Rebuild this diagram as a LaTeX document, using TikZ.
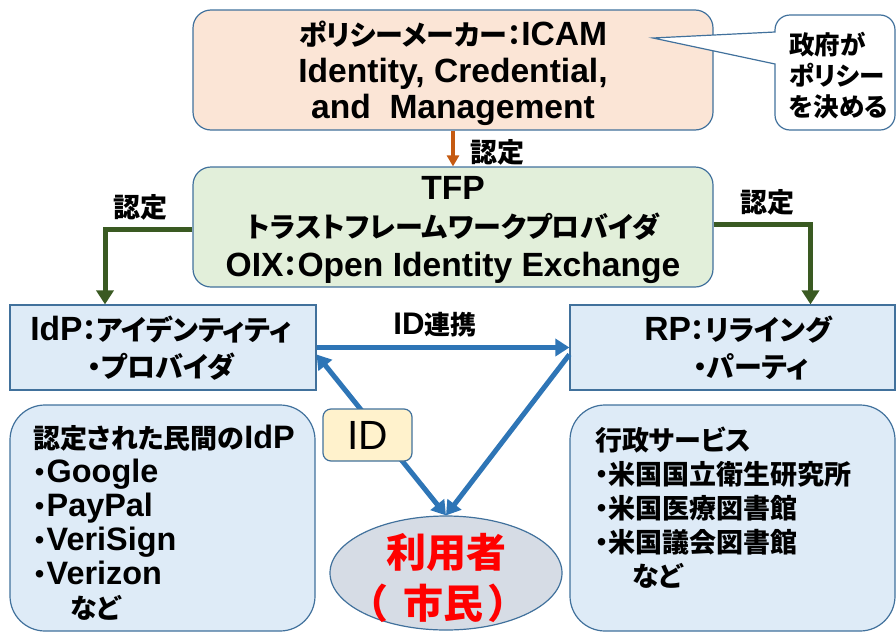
\documentclass[tikz,border=0pt]{standalone}
\usepackage{fontspec}
\setmainfont{Noto Sans CJK JP}[RawFeature=+palt]
\newfontfamily\latfont{Liberation Sans}[Scale=1.2]
\newcommand{\latn}[1]{{\latfont #1}}
\usetikzlibrary{arrows.meta,shapes.geometric}
\definecolor{peach}{HTML}{FBE5D6}
\definecolor{lgreen}{HTML}{E2EFDA}
\definecolor{lblue}{HTML}{DEEBF7}
\definecolor{lyellow}{HTML}{FFF2CC}
\definecolor{ugrey}{HTML}{D6DCE5}
\definecolor{bord}{HTML}{41719C}
\definecolor{arrblue}{HTML}{2E75B6}
\definecolor{arrgreen}{HTML}{3A5A22}
\definecolor{arrorange}{HTML}{C55A11}
\newcommand{\fsz}[2]{\fontsize{#1}{#2}\selectfont\bfseries}
\tikzset{
  box/.style={draw=bord, line width=1.2pt, inner sep=0pt},
  txt/.style={inner sep=0pt, align=center},
  ltxt/.style={inner sep=0pt, anchor=west},
  barrow/.style={draw=arrblue, line width=5pt, -{Triangle[length=14pt,width=17pt]}},
  garrow/.style={draw=arrgreen, line width=5pt, -{Triangle[length=14pt,width=17pt]}},
  oarrow/.style={draw=arrorange, line width=3.5pt, -{Triangle[length=11pt,width=12pt]}},
}
\begin{document}
\begin{tikzpicture}[x=1pt,y=1pt]
\useasboundingbox (0,0) rectangle (896,-632);
% boxes
\node[box, fill=peach, rounded corners=18, minimum width=520, minimum height=120] (pm) at (453,-70) {};
\node[box, fill=lgreen, rounded corners=18, minimum width=520, minimum height=120] (tfp) at (453,-227) {};
\node[box, fill=lblue, minimum width=306, minimum height=85] (idp) at (163,-347.5) {};
\node[box, fill=lblue, minimum width=325, minimum height=85] (rp) at (732.5,-347.5) {};
\node[box, fill=lblue, rounded corners=35, minimum width=305, minimum height=226] (lbox) at (162.5,-518) {};
\node[box, fill=lblue, rounded corners=35, minimum width=325, minimum height=226] (rbox) at (732.5,-518) {};
\node[box, fill=ugrey, ellipse, minimum width=232, minimum height=114] (user) at (446,-573) {};
% callout
\filldraw[draw=bord, fill=white, line width=1.2pt]
  (775,-64) -- (775,-115) arc[start angle=180,end angle=270,radius=15]
  -- (880,-130) arc[start angle=270,end angle=360,radius=15]
  -- (895,-30) arc[start angle=0,end angle=90,radius=15]
  -- (790,-15) arc[start angle=90,end angle=180,radius=15]
  -- (775,-32) -- (653,-38) -- cycle;
\node[ltxt, align=left, font=\fsz{25.5}{31}] (callt) at (789,-76) {政府が\\ポリシー\\を決める};
% texts
\node[txt, font=\fsz{28}{36.5}] (pmt) at (453,-73.5) {ポリシーメーカー：\latn{ICAM}\\\latn{Identity, Credential,}\\\latn{and\ \ Management}};
\node[txt, font=\fsz{28}{38.5}] (tfpt) at (453,-229.5) {\latn{TFP}\\トラストフレームワークプロバイダ\\\latn{OIX}：\latn{Open Identity Exchange}};
\node[txt, font=\fsz{28}{37}] (idpt) at (161,-348.5) {\latn{IdP}：アイデンティティ\\・プロバイダ};
\node[txt, font=\fsz{28}{37}] (rpt1) at (738,-330) {\latn{RP}：リライング};
\node[txt, font=\fsz{28}{37}] (rpt2) at (751,-367) {・パーティ};
\node[ltxt, align=left, font=\fsz{27}{34}, anchor=north west] (lboxt) at (33,-425) {認定された民間の\latn{IdP}\\・\latn{Google}\\・\latn{PayPal}\\・\latn{VeriSign}\\・\latn{Verizon}\\\hspace*{37pt}など};
\node[ltxt, align=left, font=\fsz{27}{34}, anchor=north west] (rboxt) at (595,-427) {行政サービス\\・米国国立衛生研究所\\・米国医療図書館\\・米国議会図書館\\\hspace*{37pt}など};
\node[txt, font=\fsz{40}{51}, text=red] (usert1) at (446,-552) {利用者};
\node[txt, font=\fsz{40}{51}, text=red] (usert2) at (438,-603) {（\hspace{16pt}市民\hspace{6pt}）};
% connectors
\draw[oarrow] (pm.south) -- (tfp.north);
\draw[garrow] ([yshift=-2]tfp.west) -| ([xshift=-58]idp.north);
\draw[garrow] ([yshift=3]tfp.east) -| ([xshift=78]rp.north);
\draw[barrow] (idp.east) -- (rp.west);
\draw[barrow, {Triangle[length=14pt,width=17pt]}-{Triangle[length=14pt,width=17pt]}] ([yshift=-7]idp.east) -- (user.north);
\draw[barrow] ([yshift=-7]rp.west) -- (user.north);
% labels
\node[txt, font=\fsz{27}{30}] (l1) at (497,-152) {認定};
\node[txt, font=\fsz{27}{30}] (l2) at (140,-207) {認定};
\node[txt, font=\fsz{27}{30}] (l3) at (767,-202) {認定};
\node[txt, font=\fsz{26}{30}] (l4) at (435,-325) {\latn{ID}連携};
% ID box
\node[box, fill=lyellow, rounded corners=8, minimum width=89, minimum height=52, font=\fontsize{34}{40}\selectfont] (idb) at (367.5,-435) {\latn{ID}};
\end{tikzpicture}
\end{document}
